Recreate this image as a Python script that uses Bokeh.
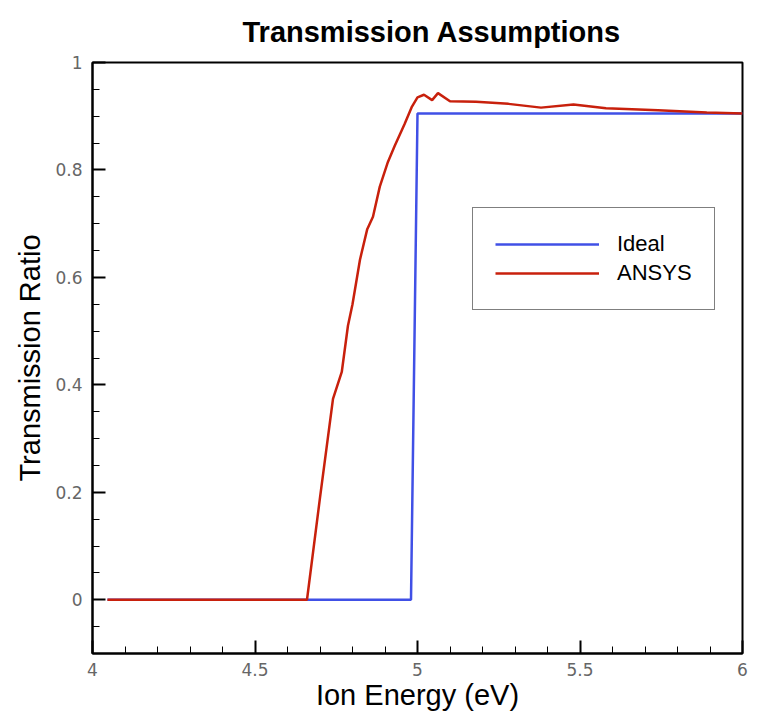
from bokeh.plotting import figure
from bokeh.models import FixedTicker, CustomJSTickFormatter, Legend, LegendItem, Range1d
from bokeh.embed import file_html
from bokeh.resources import INLINE

# Data
ideal_x = [4.046, 4.98, 5.0, 6.0]
ideal_y = [0.0, 0.0, 0.905, 0.905]

ansys_x = [4.046, 4.66, 4.70, 4.74, 4.767, 4.786, 4.80, 4.823, 4.845, 4.863, 4.884,
           4.909, 4.93, 4.96, 4.983, 5.0, 5.02, 5.045, 5.063, 5.10, 5.18, 5.28,
           5.38, 5.48, 5.58, 5.74, 5.89, 6.0]
ansys_y = [0.0, 0.0, 0.19, 0.374, 0.424, 0.51, 0.55, 0.633, 0.689, 0.713, 0.769,
           0.815, 0.845, 0.885, 0.918, 0.935, 0.94, 0.93, 0.943, 0.928, 0.927, 0.923,
           0.916, 0.922, 0.915, 0.911, 0.907, 0.905]

x_major = [4, 4.5, 5, 5.5, 6]
x_minor = [round(4 + 0.1 * i, 2) for i in range(21)]
y_major = [0, 0.2, 0.4, 0.6, 0.8, 1.0]
y_minor = [round(-0.1 + 0.05 * i, 2) for i in range(23)]

TITLE = "Transmission Assumptions"
FONT = "Liberation Sans"
TICK_FONT = "DejaVu Sans"

p = figure(width=757, height=713, output_backend="svg", toolbar_location=None,
           x_range=Range1d(4, 6), y_range=Range1d(-0.1, 1.0),
           min_border_left=92, min_border_right=15, min_border_top=62, min_border_bottom=57,
           title=TITLE)
p.title.text_font = FONT
p.title.text_font_size = "29px"
p.title.text_font_style = "bold"
p.title.text_color = "black"
p.title.align = "left"
p.title.offset = 150
p.title.vertical_align = "top"
p.title.standoff = 26

p.grid.visible = False
p.outline_line_color = "black"
p.outline_line_width = 2
p.background_fill_color = "white"
p.border_fill_color = "white"

fmt = CustomJSTickFormatter(code="return String(Math.round(tick*100)/100);")

for ax, major, minor in ((p.xaxis[0], x_major, x_minor), (p.yaxis[0], y_major, y_minor)):
    ax.ticker = FixedTicker(ticks=major, minor_ticks=minor)
    ax.formatter = fmt
    ax.major_tick_in = 13
    ax.major_tick_out = 0
    ax.minor_tick_in = 7
    ax.minor_tick_out = 0
    ax.axis_line_width = 2
    ax.major_tick_line_width = 2
    ax.minor_tick_line_width = 1
    ax.major_label_text_font = TICK_FONT
    ax.major_label_text_font_size = "17px"
    ax.major_label_text_color = "#666666"
    ax.axis_label_text_font = FONT
    ax.axis_label_text_font_size = "29px"
    ax.axis_label_text_font_style = "normal"
    ax.axis_label_text_color = "black"

p.xaxis.axis_label = "Ion Energy (eV)"
p.yaxis.axis_label = "Transmission Ratio"
p.xaxis.axis_label_standoff = 0
p.yaxis.axis_label_standoff = 6
p.xaxis.major_label_standoff = 9
p.yaxis.major_label_standoff = 10

r_ideal = p.line(ideal_x, ideal_y, line_color="#4050E6", line_width=2.5)
r_ansys = p.line(ansys_x, ansys_y, line_color="#C8200C", line_width=2.5)

legend = Legend(items=[LegendItem(label="Ideal", renderers=[r_ideal]),
                       LegendItem(label="ANSYS", renderers=[r_ansys])],
                location=(380, 343), orientation="vertical")
legend.border_line_color = "black"
legend.border_line_width = 1
legend.background_fill_alpha = 1.0
legend.padding = 22
legend.glyph_width = 104
legend.glyph_height = 28
legend.label_height = 28
legend.spacing = 1
legend.label_standoff = 18
legend.label_text_font = FONT
legend.label_text_font_size = "22px"
legend.label_text_color = "black"
legend.margin = 0
p.add_layout(legend, "center")

open("out.html", "w").write(file_html(p, INLINE))
